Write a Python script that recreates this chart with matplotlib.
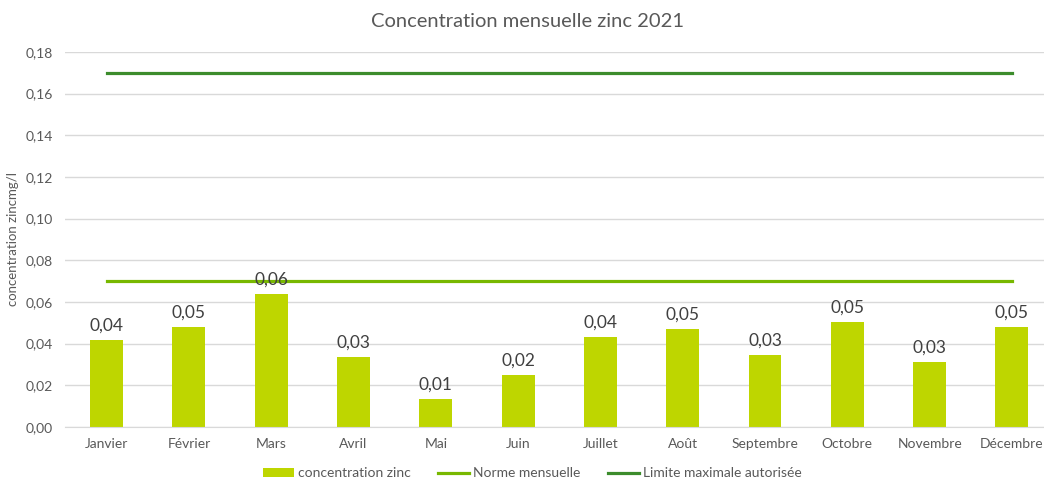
import matplotlib.pyplot as plt
from matplotlib.ticker import FuncFormatter

mois = ["Janvier", "Février", "Mars", "Avril", "Mai", "Juin", "Juillet",
        "Août", "Septembre", "Octobre", "Novembre", "Décembre"]
zinc = [0.0418, 0.0479, 0.0638, 0.0336, 0.0134, 0.0248, 0.0434,
        0.0470, 0.0346, 0.0504, 0.0311, 0.0479]
norme = [0.07] * 12
limite = [0.17] * 12
yticks = [0.00, 0.02, 0.04, 0.06, 0.08, 0.10, 0.12, 0.14, 0.16, 0.18]

plt.rcParams['font.family'] = ['Lato', 'DejaVu Sans']

fig = plt.figure(figsize=(10.44, 4.84), dpi=100)
ax = fig.add_axes([0.0627, 0.1178, 0.946, 0.7748])

x = list(range(len(mois)))
bars = ax.bar(x, zinc, width=0.4, color="#BED600", label="concentration zinc", zorder=2)
l1, = ax.plot(x, norme, color="#78B800", lw=2.3, label="Norme mensuelle", zorder=3)
l2, = ax.plot(x, limite, color="#3C8C2C", lw=2.3, label="Limite maximale autorisée", zorder=3)

for xi, v in zip(x, zinc):
    ax.text(xi, v + 0.003, f"{v:.2f}".replace(".", ","), ha="center", va="bottom",
            fontsize=12.5, color="#404040", zorder=4)

ax.set_xlim(-0.5, 11.5)
ax.set_ylim(0, 0.18)
ax.set_yticks(yticks)
ax.yaxis.set_major_formatter(FuncFormatter(lambda v, p: f"{v:.2f}".replace(".", ",")))
ax.set_xticks(x)
ax.set_xticklabels(mois)
ax.tick_params(axis="both", length=0, labelsize=10, labelcolor="#595959")
ax.tick_params(axis="x", pad=8)
ax.tick_params(axis="y", pad=9)
ax.grid(axis="y", color="#D9D9D9", lw=1, zorder=0)
ax.set_axisbelow(True)
for s in ["top", "right", "left"]:
    ax.spines[s].set_visible(False)
ax.spines["bottom"].set_color("#D9D9D9")

ax.set_ylabel("concentration zincmg/l", fontsize=9.5, color="#595959")
ax.yaxis.set_label_coords(-0.047, 0.5)

fig.text(0.505, 0.955, "Concentration mensuelle zinc 2021", ha="center", va="center",
         fontsize=14.5, color="#595959")

fig.legend([bars, l1, l2], ["concentration zinc", "Norme mensuelle", "Limite maximale autorisée"],
           loc="center", bbox_to_anchor=(0.51, 0.022), ncol=3, frameon=False,
           fontsize=10, labelcolor="#595959", handlelength=2.2, handleheight=0.6,
           columnspacing=2.0, handletextpad=0.3)

fig.savefig("out.png", dpi=100)
